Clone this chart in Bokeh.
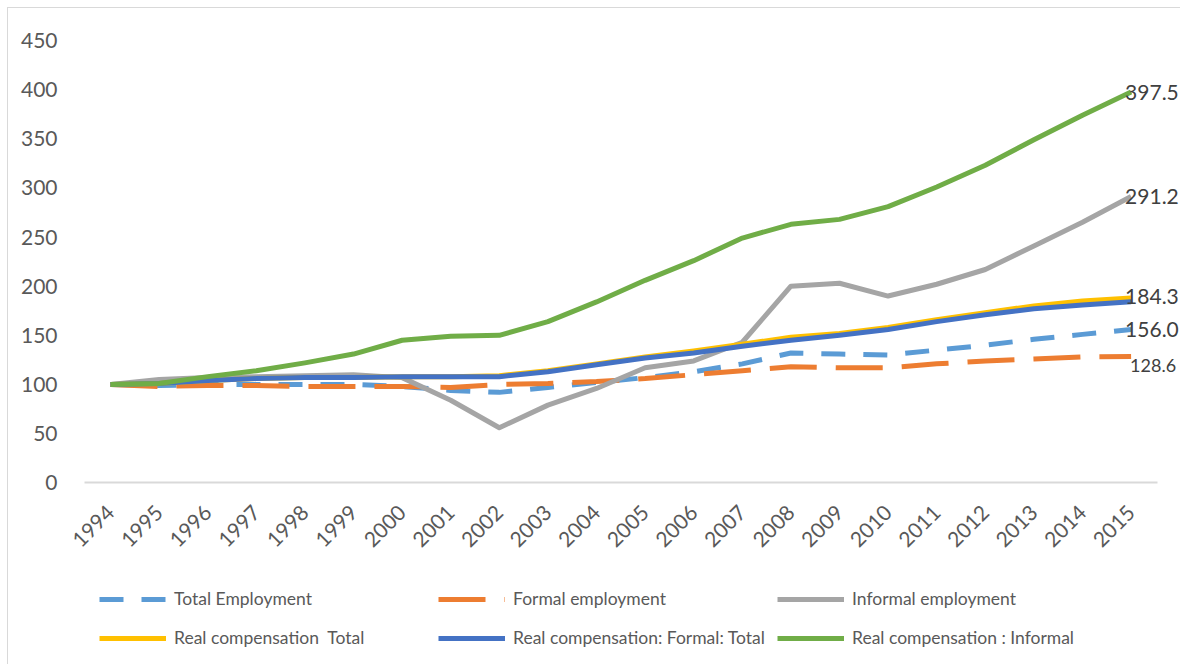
from bokeh.plotting import figure
from bokeh.models import FixedTicker, Legend, LegendItem, Label
from bokeh.embed import file_html
from bokeh.resources import INLINE
import math

# ---- data ----
years = [1994, 1995, 1996, 1997, 1998, 1999, 2000, 2001, 2002, 2003, 2004,
         2005, 2006, 2007, 2008, 2009, 2010, 2011, 2012, 2013, 2014, 2015]
year_labels = ["1994", "1995", "1996", "1997", "1998", "1999", "2000", "2001",
               "2002", "2003", "2004", "2005", "2006", "2007", "2008", "2009",
               "2010", "2011", "2012", "2013", "2014", "2015"]
total_employment = [100, 99, 100, 100, 100, 100, 98, 94, 92, 97, 102,
                    107, 113, 121, 132, 131, 130, 135, 140, 146, 151, 156.0]
formal_employment = [100, 98, 99, 99, 98, 98, 98, 97, 100, 101, 103,
                     106, 110, 114, 118, 117, 117, 121, 124, 126, 128, 128.6]
informal_employment = [100, 105, 107, 108, 109, 110, 107, 84, 56, 79, 96,
                       117, 124, 143, 200, 203, 190, 202, 217, 241, 265, 291.2]
real_comp_total = [100, 101, 104, 106, 107, 107, 108, 108, 109, 114, 121,
                   128, 134, 141, 148, 152, 158, 166, 173, 180, 185, 188]
real_comp_formal = [100, 101, 104, 106, 107, 107, 108, 108, 108, 113, 120,
                    127, 132, 139, 145, 150, 156, 164, 171, 177, 181, 184.3]
real_comp_informal = [100, 101, 108, 114, 122, 131, 145, 149, 150, 164, 184,
                      206, 226, 249, 263, 268, 281, 301, 323, 349, 374, 397.5]
y_ticks = [0, 50, 100, 150, 200, 250, 300, 350, 400, 450]
series_names = ["Total Employment", "Formal employment", "Informal employment",
                "Real compensation  Total", "Real compensation: Formal: Total",
                "Real compensation : Informal"]

FONT = "Lato"
X_START, X_END = 1993.465, 2015.535   # category axis extent (half a step padding)

p = figure(width=1173, height=657, output_backend="svg", toolbar_location=None,
           x_range=(1991.901, 2016.037), y_range=(-185.9, 482.56),
           min_border_left=0, min_border_right=0, min_border_top=0,
           min_border_bottom=0, background_fill_color="white",
           border_fill_color="white", outline_line_color=None)
p.styles = {"margin-left": "7px", "margin-top": "7px",
            "border-left": "1px solid #d9d9d9", "border-top": "1px solid #d9d9d9"}

p.xgrid.visible = False
p.ygrid.visible = False

# axes
p.yaxis.fixed_location = X_START
p.yaxis.ticker = FixedTicker(ticks=y_ticks)
p.yaxis.axis_line_color = None
p.yaxis.major_tick_line_color = None
p.yaxis.minor_tick_line_color = None
p.yaxis.major_label_text_font = FONT
p.yaxis.major_label_text_font_size = "21px"
p.yaxis.major_label_text_color = "#595959"
p.yaxis.major_label_standoff = 21

p.xaxis.fixed_location = 0
p.xaxis.bounds = (X_START, X_END)
p.xaxis.ticker = FixedTicker(ticks=years)
p.xaxis.major_label_overrides = {y: l for y, l in zip(years, year_labels)}
p.xaxis.axis_line_color = "#d9d9d9"
p.xaxis.axis_line_width = 2
p.xaxis.major_tick_line_color = None
p.xaxis.minor_tick_line_color = None
p.xaxis.major_label_orientation = math.pi / 4
p.xaxis.major_label_text_font = FONT
p.xaxis.major_label_text_font_size = "21px"
p.xaxis.major_label_text_color = "#595959"
p.xaxis.major_label_standoff = 20

LW = 5
r_te = p.line(years, total_employment, line_color="#5B9BD5", line_width=LW, line_dash="24 18")
r_fe = p.line(years, formal_employment, line_color="#ED7D31", line_width=LW, line_dash="47 19")
r_ie = p.line(years, informal_employment, line_color="#A5A5A5", line_width=LW, line_join="round")
r_rt = p.line(years, real_comp_total, line_color="#FFC000", line_width=LW, line_join="round")
r_rf = p.line(years, real_comp_formal, line_color="#4472C4", line_width=LW, line_join="round")
r_ri = p.line(years, real_comp_informal, line_color="#70AD47", line_width=LW, line_join="round")

# end labels
label_specs = [(real_comp_informal, -6, 0, "21px"),
               (informal_employment, -6, 0, "21px"),
               (real_comp_formal, -6, 5, "21px"),
               (total_employment, -6, 0, "21px"),
               (formal_employment, -1, -9, "18px")]
for series, xo, yo, fs in label_specs:
    p.add_layout(Label(x=years[-1], y=series[-1], text=f"{series[-1]:.1f}",
                       x_offset=xo, y_offset=yo, text_font=FONT,
                       text_font_size=fs, text_color="#404040",
                       text_baseline="middle", text_align="left"))

# legends: three columns, two rows each
columns = [[(series_names[0], r_te), (series_names[3], r_rt)],
           [(series_names[1], r_fe), (series_names[4], r_rf)],
           [(series_names[2], r_ie), (series_names[5], r_ri)]]
col_x = [91, 430, 769]
for items, cx in zip(columns, col_x):
    leg = Legend(items=[LegendItem(label=n, renderers=[r]) for n, r in items],
                 location=(cx, 17), orientation="vertical",
                 glyph_width=67, glyph_height=20, label_height=20,
                 label_standoff=8, spacing=18, padding=0, margin=0,
                 border_line_color=None, background_fill_alpha=0,
                 label_text_font=FONT, label_text_font_size="17.5px",
                 label_text_color="#595959")
    p.add_layout(leg, "center")

open("out.html", "w").write(file_html(p, INLINE))
